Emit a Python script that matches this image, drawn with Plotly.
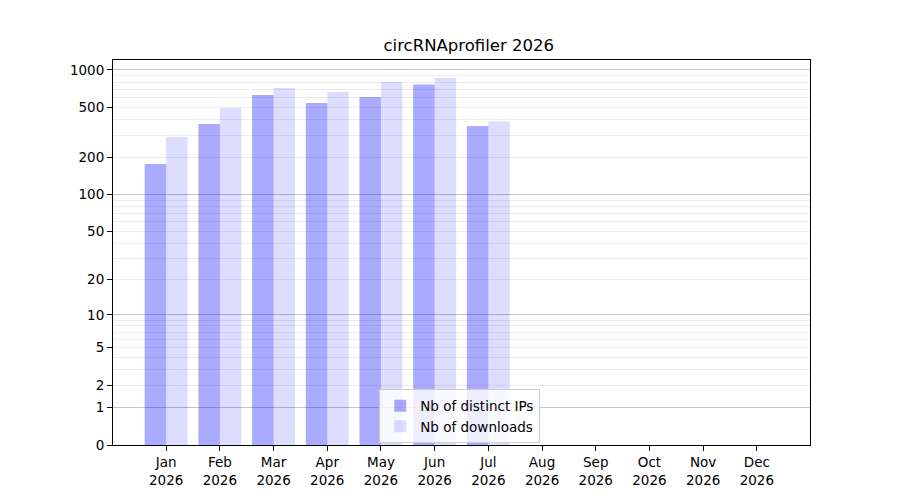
import numpy as np
import pandas as pd
import plotly.graph_objects as go

# monthly stats (raw counts), months evenly spaced
months = ['Jan', 'Feb', 'Mar', 'Apr', 'May', 'Jun',
          'Jul', 'Aug', 'Sep', 'Oct', 'Nov', 'Dec']
year = '2026'
distinct_ips = [176, 369, 630, 544, 608, 763, 356, 0, 0, 0, 0, 0]
downloads = [290, 496, 717, 666, 802, 863, 386, 0, 0, 0, 0, 0]

# y axis is log10(1 + n): labels are raw counts
tick_labels = [0, 1, 2, 5, 10, 20, 50, 100, 200, 500, 1000]
major_grid = [1, 10, 100, 1000]
minor_grid = [m * d for d in (1, 10, 100) for m in range(2, 10)]

xpos = list(range(len(months)))
bar_w = 0.4
font = 'DejaVu Sans'

fig = go.Figure()

fig.add_bar(x=xpos, y=distinct_ips, base=[1] * len(months),
            width=bar_w, offset=-bar_w,
            marker=dict(color='rgba(0,0,255,0.333)', line_width=0),
            name='Nb of distinct IPs')
fig.add_bar(x=xpos, y=downloads, base=[1] * len(months),
            width=bar_w, offset=0,
            marker=dict(color='rgba(0,0,255,0.133)', line_width=0),
            name='Nb of downloads')

# invisible trace to carry the overlay axis with the darker grid lines
fig.add_scatter(x=[0], y=[2], yaxis='y2', mode='markers',
                marker=dict(opacity=0), showlegend=False, hoverinfo='skip')

yrange = [0, 3.08]

# page body has an 8px margin, so the figure is shrunk by that much
fig.update_layout(
    width=892, height=492,
    margin=dict(l=105, r=90, t=52, b=55),
    paper_bgcolor='white', plot_bgcolor='white',
    font=dict(family=font, size=13.5, color='black'),
    barmode='overlay',
    title=dict(text='circRNAprofiler 2026', x=0.5165, xanchor='center',
               y=0.925, yanchor='middle', font=dict(size=16.5, family=font)),
    legend=dict(x=0.382, y=0.004, xanchor='left', yanchor='bottom',
                bgcolor='rgba(255,255,255,0.8)', bordercolor='#cccccc',
                borderwidth=1, font=dict(size=13.5, family=font),
                tracegroupgap=0),
    xaxis=dict(range=[-0.99, 11.99],
               tickmode='array', tickvals=xpos,
               ticktext=[m + '<br>' + year for m in months],
               ticks='outside', ticklen=5, tickcolor='black',
               showgrid=False, zeroline=False,
               showline=True, linecolor='black', linewidth=1, mirror=True),
    yaxis=dict(type='log', range=yrange,
               tickmode='array', tickvals=[v + 1 for v in tick_labels],
               ticktext=[str(v) for v in tick_labels],
               ticks='outside', ticklen=5, tickcolor='black',
               showgrid=False, zeroline=False,
               showline=True, linecolor='black', linewidth=1, mirror=True,
               minor=dict(tickmode='array', tickvals=[v + 1 for v in minor_grid],
                          showgrid=True, gridcolor='#ebebeb', gridwidth=1,
                          ticks='')),
    yaxis2=dict(type='log', range=yrange, overlaying='y', side='left',
                tickmode='array', tickvals=[v + 1 for v in major_grid],
                showticklabels=False, ticks='',
                showgrid=True, gridcolor='#c4c4c4', gridwidth=1,
                zeroline=False, showline=False),
)

fig.write_html("out.html")
